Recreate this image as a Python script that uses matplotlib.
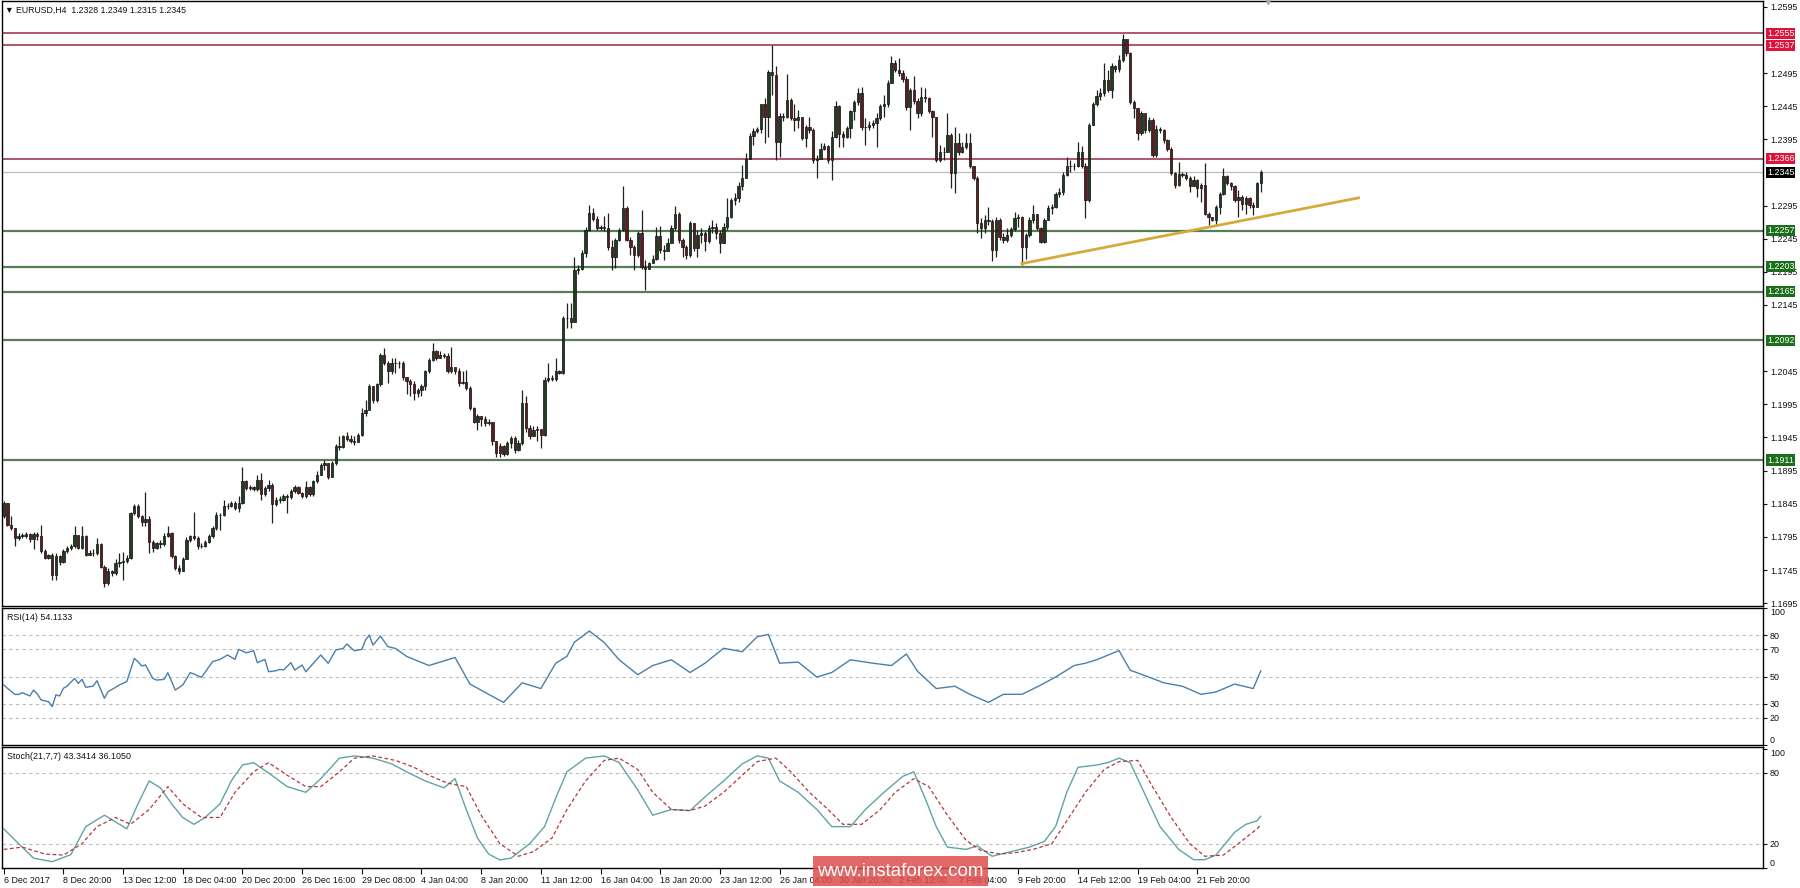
import numpy as np
import matplotlib
matplotlib.use("Agg")
import matplotlib.pyplot as plt
import matplotlib.transforms as mtransforms
from matplotlib.patches import Rectangle

plt.rcParams['font.family'] = ['Liberation Sans', 'DejaVu Sans']

# ---------------- data ----------------
header_text = "\u25BC EURUSD,H4  1.2328 1.2349 1.2315 1.2345"
rsi_title = "RSI(14) 54.1133"
stoch_title = "Stoch(21,7,7) 43.3414 36.1050"

open_first = 1.1826
close = [
 1.1846, 1.1813, 1.1808, 1.1793, 1.1797, 1.1797, 1.1800, 1.1792, 1.1800, 1.1797,
 1.1773, 1.1763, 1.1767, 1.1738, 1.1766, 1.1757, 1.1773, 1.1778, 1.1781, 1.1798,
 1.1778, 1.1796, 1.1768, 1.1771, 1.1770, 1.1785, 1.1750, 1.1725, 1.1743, 1.1740,
 1.1756, 1.1757, 1.1758, 1.1763, 1.1831, 1.1842, 1.1826, 1.1818, 1.1822, 1.1788,
 1.1778, 1.1786, 1.1785, 1.1797, 1.1801, 1.1766, 1.1748, 1.1743, 1.1762, 1.1791,
 1.1796, 1.1793, 1.1781, 1.1782, 1.1788, 1.1796, 1.1808, 1.1828, 1.1828, 1.1841,
 1.1842, 1.1846, 1.1839, 1.1846, 1.1879, 1.1869, 1.1870, 1.1867, 1.1881, 1.1859,
 1.1869, 1.1874, 1.1844, 1.1851, 1.1851, 1.1856, 1.1855, 1.1864, 1.1870, 1.1861,
 1.1856, 1.1871, 1.1859, 1.1879, 1.1889,
 1.1904, 1.1907, 1.1886, 1.1906, 1.1932, 1.1931, 1.1947, 1.1942, 1.1939, 1.1938,
 1.1949, 1.1982, 1.1987, 1.2022, 1.2002, 1.2025, 1.2070, 1.2057, 1.2045, 1.2057,
 1.2058, 1.2057, 1.2037, 1.2030, 1.2025, 1.2012, 1.2017, 1.2022, 1.2045, 1.2062,
 1.2075, 1.2065, 1.2070, 1.2068, 1.2045, 1.2051, 1.2045, 1.2027, 1.2028, 1.2020,
 1.1989, 1.1969, 1.1977, 1.1973, 1.1967, 1.1968, 1.1939, 1.1921, 1.1932, 1.1920,
 1.1936, 1.1944, 1.1926, 1.1937, 1.1997, 1.1959, 1.1947, 1.1957, 1.1958, 1.1949,
 1.2032, 1.2035, 1.2033, 1.2046, 1.2043, 1.2125, 1.2125, 1.2120, 1.2198, 1.2199,
 1.2223, 1.2258, 1.2284, 1.2274, 1.2261, 1.2262, 1.2261, 1.2233, 1.2218, 1.2243,
 1.2258, 1.2291, 1.2243, 1.2233, 1.2221, 1.2253,
 1.2203, 1.2200, 1.2208, 1.2215, 1.2249, 1.2228, 1.2226, 1.2238, 1.2261, 1.2283,
 1.2243, 1.2233, 1.2220, 1.2269, 1.2231, 1.2251, 1.2253, 1.2241, 1.2261, 1.2263,
 1.2253, 1.2238, 1.2263, 1.2278, 1.2303, 1.2306, 1.2324, 1.2336, 1.2366, 1.2400,
 1.2407, 1.2410, 1.2448, 1.2429, 1.2497, 1.2492, 1.2391, 1.2430, 1.2428, 1.2454,
 1.2427, 1.2424, 1.2428, 1.2397, 1.2414, 1.2409, 1.2364, 1.2366, 1.2381, 1.2385,
 1.2364, 1.2399, 1.2445, 1.2403, 1.2399, 1.2412, 1.2437, 1.2452, 1.2465, 1.2414,
 1.2413, 1.2416, 1.2420, 1.2427, 1.2445, 1.2448, 1.2480, 1.2510, 1.2499, 1.2495,
 1.2486, 1.2443, 1.2469, 1.2453, 1.2434, 1.2459, 1.2457, 1.2437, 1.2428, 1.2364,
 1.2376, 1.2376, 1.2402, 1.2344, 1.2389, 1.2376,
 1.2384, 1.2389, 1.2354, 1.2336, 1.2268, 1.2261, 1.2273, 1.2271, 1.2228, 1.2273,
 1.2248, 1.2243, 1.2251, 1.2259, 1.2276, 1.2278, 1.2233, 1.2251, 1.2273, 1.2283,
 1.2261, 1.2240, 1.2273, 1.2291, 1.2293, 1.2313, 1.2316, 1.2341, 1.2354, 1.2354,
 1.2354, 1.2376, 1.2354, 1.2303, 1.2417, 1.2449, 1.2460, 1.2465, 1.2484, 1.2469,
 1.2505, 1.2501, 1.2515, 1.2547, 1.2525, 1.2452, 1.2442, 1.2404, 1.2434, 1.2409,
 1.2424, 1.2371, 1.2411, 1.2409, 1.2394, 1.2381, 1.2344, 1.2326, 1.2343, 1.2341,
 1.2336, 1.2324, 1.2334, 1.2321, 1.2326, 1.2283, 1.2278, 1.2273, 1.2293, 1.2313,
 1.2339, 1.2329, 1.2324, 1.2303, 1.2308, 1.2298, 1.2306, 1.2296, 1.2293, 1.2329,
 1.2345,
]
high = [
 1.1849, 1.1846, 1.1826, 1.1808, 1.1801, 1.1801, 1.1803, 1.1801, 1.1802, 1.1802,
 1.1813, 1.1776, 1.1769, 1.1771, 1.1770, 1.1768, 1.1776, 1.1781, 1.1785, 1.1811,
 1.1798, 1.1812, 1.1798, 1.1775, 1.1776, 1.1793, 1.1786, 1.1753, 1.1748, 1.1745,
 1.1761, 1.1771, 1.1772, 1.1768, 1.1833, 1.1845, 1.1844, 1.1828, 1.1862, 1.1826,
 1.1791, 1.1788, 1.1791, 1.1801, 1.1812, 1.1802, 1.1768, 1.1753, 1.1765, 1.1795,
 1.1798, 1.1833, 1.1796, 1.1786, 1.1791, 1.1800, 1.1812, 1.1833, 1.1831, 1.1851,
 1.1846, 1.1849, 1.1849, 1.1856, 1.1901, 1.1881, 1.1874, 1.1872, 1.1889, 1.1891,
 1.1872, 1.1881, 1.1876, 1.1855, 1.1856, 1.1859, 1.1859, 1.1867, 1.1874, 1.1872,
 1.1862, 1.1879, 1.1872, 1.1881, 1.1894,
 1.1907, 1.1911, 1.1904, 1.1909, 1.1935, 1.1947, 1.1949, 1.1954, 1.1949, 1.1947,
 1.1952, 1.1989, 1.2002, 1.2025, 1.2022, 1.2027, 1.2072, 1.2080, 1.2060, 1.2065,
 1.2065, 1.2061, 1.2060, 1.2037, 1.2033, 1.2030, 1.2020, 1.2025, 1.2047, 1.2065,
 1.2088, 1.2077, 1.2075, 1.2073, 1.2073, 1.2082, 1.2052, 1.2050, 1.2045, 1.2047,
 1.2022, 1.1991, 1.1981, 1.1977, 1.1977, 1.1973, 1.1967, 1.1940, 1.1936, 1.1933,
 1.1939, 1.1948, 1.1947, 1.1941, 1.2017, 1.2007, 1.1964, 1.1962, 1.1963, 1.1954,
 1.2036, 1.2057, 1.2040, 1.2065, 1.2047, 1.2128, 1.2148, 1.2148, 1.2218, 1.2206,
 1.2228, 1.2263, 1.2296, 1.2291, 1.2279, 1.2266, 1.2280, 1.2284, 1.2243, 1.2246,
 1.2261, 1.2324, 1.2294, 1.2248, 1.2236, 1.2256,
 1.2288, 1.2213, 1.2210, 1.2220, 1.2263, 1.2264, 1.2236, 1.2246, 1.2266, 1.2294,
 1.2286, 1.2246, 1.2236, 1.2272, 1.2269, 1.2258, 1.2261, 1.2256, 1.2266, 1.2273,
 1.2268, 1.2258, 1.2268, 1.2306, 1.2306, 1.2314, 1.2331, 1.2356, 1.2374, 1.2404,
 1.2412, 1.2414, 1.2449, 1.2457, 1.2500, 1.2537, 1.2505, 1.2434, 1.2434, 1.2494,
 1.2457, 1.2448, 1.2439, 1.2428, 1.2417, 1.2428, 1.2412, 1.2371, 1.2389, 1.2389,
 1.2386, 1.2407, 1.2453, 1.2447, 1.2407, 1.2415, 1.2439, 1.2455, 1.2472, 1.2474,
 1.2427, 1.2422, 1.2424, 1.2434, 1.2449, 1.2462, 1.2485, 1.2521, 1.2515, 1.2517,
 1.2500, 1.2490, 1.2472, 1.2490, 1.2457, 1.2474, 1.2473, 1.2459, 1.2439, 1.2428,
 1.2386, 1.2384, 1.2434, 1.2404, 1.2414, 1.2404,
 1.2391, 1.2404, 1.2405, 1.2354, 1.2339, 1.2276, 1.2281, 1.2293, 1.2274, 1.2278,
 1.2276, 1.2253, 1.2261, 1.2263, 1.2286, 1.2283, 1.2280, 1.2253, 1.2278, 1.2296,
 1.2283, 1.2263, 1.2276, 1.2296, 1.2298, 1.2316, 1.2321, 1.2346, 1.2369, 1.2364,
 1.2359, 1.2391, 1.2385, 1.2359, 1.2419, 1.2452, 1.2469, 1.2472, 1.2510, 1.2500,
 1.2510, 1.2507, 1.2522, 1.2554, 1.2547, 1.2527, 1.2454, 1.2442, 1.2437, 1.2432,
 1.2429, 1.2427, 1.2417, 1.2414, 1.2410, 1.2396, 1.2384, 1.2346, 1.2361, 1.2346,
 1.2345, 1.2340, 1.2339, 1.2335, 1.2329, 1.2359, 1.2286, 1.2278, 1.2296, 1.2316,
 1.2351, 1.2341, 1.2331, 1.2326, 1.2318, 1.2311, 1.2310, 1.2308, 1.2301, 1.2331,
 1.2349,
]
low = [
 1.1823, 1.1811, 1.1806, 1.1781, 1.1791, 1.1793, 1.1793, 1.1788, 1.1776, 1.1791,
 1.1771, 1.1761, 1.1762, 1.1730, 1.1730, 1.1753, 1.1755, 1.1771, 1.1775, 1.1778,
 1.1776, 1.1776, 1.1766, 1.1767, 1.1766, 1.1767, 1.1748, 1.1720, 1.1723, 1.1736,
 1.1738, 1.1750, 1.1730, 1.1755, 1.1761, 1.1828, 1.1823, 1.1811, 1.1811, 1.1771,
 1.1772, 1.1776, 1.1778, 1.1781, 1.1795, 1.1763, 1.1745, 1.1739, 1.1753, 1.1761,
 1.1788, 1.1791, 1.1776, 1.1778, 1.1780, 1.1786, 1.1793, 1.1806, 1.1806, 1.1826,
 1.1837, 1.1840, 1.1835, 1.1833, 1.1845, 1.1866, 1.1866, 1.1864, 1.1864, 1.1851,
 1.1856, 1.1865, 1.1816, 1.1842, 1.1846, 1.1849, 1.1831, 1.1852, 1.1861, 1.1859,
 1.1854, 1.1854, 1.1856, 1.1856, 1.1876,
 1.1889, 1.1896, 1.1882, 1.1885, 1.1904, 1.1926, 1.1929, 1.1939, 1.1937, 1.1934,
 1.1939, 1.1947, 1.1977, 1.1986, 1.1997, 1.1999, 1.2022, 1.2055, 1.2027, 1.2041,
 1.2042, 1.2050, 1.2032, 1.2010, 1.2007, 1.2002, 1.2006, 1.2008, 1.2016, 1.2042,
 1.2061, 1.2062, 1.2065, 1.2065, 1.2042, 1.2042, 1.2041, 1.2022, 1.2025, 1.2017,
 1.1986, 1.1967, 1.1957, 1.1962, 1.1962, 1.1964, 1.1934, 1.1916, 1.1916, 1.1917,
 1.1919, 1.1929, 1.1922, 1.1924, 1.1934, 1.1954, 1.1942, 1.1947, 1.1939, 1.1929,
 1.1947, 1.2028, 1.2030, 1.2031, 1.2041, 1.2041, 1.2110, 1.2110, 1.2133, 1.2191,
 1.2198, 1.2217, 1.2256, 1.2271, 1.2258, 1.2258, 1.2257, 1.2228, 1.2198, 1.2201,
 1.2241, 1.2256, 1.2241, 1.2221, 1.2198, 1.2218,
 1.2200, 1.2168, 1.2199, 1.2208, 1.2213, 1.2224, 1.2213, 1.2228, 1.2238, 1.2258,
 1.2238, 1.2218, 1.2215, 1.2218, 1.2227, 1.2218, 1.2238, 1.2226, 1.2238, 1.2253,
 1.2245, 1.2223, 1.2238, 1.2258, 1.2276, 1.2296, 1.2301, 1.2319, 1.2336, 1.2366,
 1.2386, 1.2404, 1.2404, 1.2389, 1.2399, 1.2462, 1.2364, 1.2369, 1.2422, 1.2427,
 1.2424, 1.2407, 1.2412, 1.2394, 1.2384, 1.2404, 1.2359, 1.2336, 1.2366, 1.2379,
 1.2359, 1.2334, 1.2397, 1.2384, 1.2384, 1.2397, 1.2397, 1.2424, 1.2447, 1.2409,
 1.2386, 1.2409, 1.2412, 1.2384, 1.2424, 1.2429, 1.2444, 1.2480, 1.2496, 1.2490,
 1.2482, 1.2439, 1.2409, 1.2449, 1.2427, 1.2430, 1.2452, 1.2434, 1.2399, 1.2361,
 1.2361, 1.2364, 1.2376, 1.2321, 1.2314, 1.2371,
 1.2374, 1.2381, 1.2351, 1.2333, 1.2253, 1.2246, 1.2253, 1.2266, 1.2212, 1.2218,
 1.2243, 1.2238, 1.2240, 1.2248, 1.2256, 1.2263, 1.2205, 1.2215, 1.2248, 1.2268,
 1.2258, 1.2238, 1.2239, 1.2273, 1.2283, 1.2291, 1.2308, 1.2311, 1.2339, 1.2346,
 1.2349, 1.2353, 1.2351, 1.2276, 1.2301, 1.2417, 1.2445, 1.2454, 1.2460, 1.2467,
 1.2457, 1.2497, 1.2497, 1.2512, 1.2520, 1.2449, 1.2427, 1.2394, 1.2401, 1.2404,
 1.2406, 1.2369, 1.2368, 1.2404, 1.2390, 1.2378, 1.2341, 1.2321, 1.2324, 1.2338,
 1.2333, 1.2316, 1.2324, 1.2308, 1.2301, 1.2281, 1.2266, 1.2271, 1.2264, 1.2283,
 1.2311, 1.2326, 1.2319, 1.2301, 1.2278, 1.2288, 1.2283, 1.2291, 1.2281, 1.2293,
 1.2315,
]

date_labels = ['6 Dec 2017', '8 Dec 20:00', '13 Dec 12:00', '18 Dec 04:00', '20 Dec 20:00',
               '26 Dec 16:00', '29 Dec 08:00', '4 Jan 04:00', '8 Jan 20:00', '11 Jan 12:00',
               '16 Jan 04:00', '18 Jan 20:00', '23 Jan 12:00', '26 Jan 04:00', '30 Jan 20:00',
               '2 Feb 12:00', '7 Feb 04:00', '9 Feb 20:00', '14 Feb 12:00', '19 Feb 04:00',
               '21 Feb 20:00']
bars_per_label = 16

# scale labels shown by the terminal (those hidden behind level boxes are left out)
price_ticks = [1.1695, 1.1745, 1.1795, 1.1845, 1.1895, 1.1945, 1.1995, 1.2045,
               1.2145, 1.2195, 1.2245, 1.2295, 1.2395, 1.2445, 1.2495, 1.2595]
resistance_levels = [1.2555, 1.2537, 1.2366]
support_levels = [1.2257, 1.2203, 1.2165, 1.2092, 1.1911]
last_price = 1.2345
trend_bar = [272.6, 363.6]
trend_price = [1.2207, 1.2307]

rsi_levels = [80, 70, 50, 30, 20]
rsi_ticks = [0, 20, 30, 50, 70, 80, 100]
rsi_bar = [0, 1, 3, 4, 5, 7, 8, 9, 10, 12, 13, 14, 15, 16, 17, 19, 20, 21, 22, 24,
           25, 27, 28, 30, 31, 33, 35, 36, 37, 38, 40, 41, 43, 44, 46, 48, 50, 51, 53, 56,
           58, 60, 62, 63, 65, 67, 68, 70, 71, 73, 74, 75, 77, 78, 80, 81, 83, 85, 87, 89,
           91, 92, 94, 96, 97, 98, 99, 101, 103, 105, 108, 114, 121, 125, 130, 134, 139, 144, 148, 151,
           153, 157, 161, 165, 170, 174, 179, 184, 188, 193, 198, 202, 205, 208, 213, 218, 222, 227, 233, 238,
           242, 245, 250, 255, 259, 264, 268, 273, 278, 282, 287, 290, 293, 299, 302, 307, 311, 316, 321, 325,
           330, 335, 337]
rsi_val = [43.9, 41.4, 36.9, 36.9, 38.2, 35.8, 40.1, 37.3, 32.9, 31.6, 28.0, 36.6, 35.8, 41.4, 43.0, 48.6, 45.0, 47.9, 42.1, 43.0,
           46.9, 34.1, 39.0, 42.1, 43.8, 46.3, 63.2, 60.8, 57.7, 58.4, 48.6, 47.4, 47.9, 52.8, 40.1, 43.8, 52.8, 51.8, 49.4, 60.8,
           62.5, 65.7, 62.5, 69.8, 67.3, 68.8, 60.1, 62.5, 53.5, 54.2, 55.2, 54.7, 60.1, 54.7, 58.4, 53.5, 59.6, 65.7, 59.6, 69.3,
           70.5, 73.7, 68.8, 69.8, 76.6, 80.2, 72.9, 79.5, 71.8, 70.5, 64.7, 58.0, 63.9, 44.5, 37.0, 31.1, 45.4, 41.2, 59.7, 64.7,
           75.0, 83.2, 74.8, 62.2, 51.3, 58.0, 62.2, 52.9, 59.7, 70.6, 68.1, 79.0, 80.7, 59.7, 60.5, 49.6, 52.9, 62.2, 59.7, 58.0,
           66.4, 53.8, 41.2, 42.9, 37.0, 31.1, 37.0, 37.0, 43.7, 49.6, 58.0, 59.7, 62.2, 68.9, 54.6, 49.6, 45.4, 42.9, 37.0, 38.7,
           44.5, 41.2, 54.1]

stoch_levels = [80, 20]
stoch_ticks = [0, 20, 80, 100]
stoch_bar = [0, 4, 8, 13, 18, 22, 27, 30, 33, 36, 39, 42, 45, 48, 51, 54, 58, 61, 64, 67,
             71, 76, 81, 85, 90, 94, 99, 104, 108, 113, 118, 121, 124, 127, 130, 133, 136, 141, 145, 148,
             151, 156, 161, 165, 170, 174, 179, 184, 188, 193, 198, 202, 205, 208, 213, 218, 222, 227, 231, 236,
             241, 244, 247, 250, 253, 258, 261, 265, 270, 275, 279, 282, 285, 288, 293, 296, 299, 302, 305, 310,
             315, 319, 322, 325, 330, 333, 336, 337]
stoch_main = [32.7, 20.2, 8.0, 5.0, 11.0, 34.6, 44.2, 38.5, 32.7, 53.8, 73.1, 67.3, 53.8, 42.3, 36.5, 42.3, 53.8, 73.1, 86.5, 88.5,
              79.8, 68.3, 63.5, 75.0, 92.3, 94.2, 92.3, 87.5, 80.8, 73.1, 67.3, 75.0, 49.0, 25.0, 11.5, 6.5, 8.0, 20.2, 34.6, 58.7,
              80.8, 92.3, 94.2, 88.5, 65.4, 44.2, 49.0, 48.1, 59.6, 73.1, 87.5, 94.2, 92.3, 73.1, 63.5, 49.0, 34.6, 34.6, 49.0, 63.5,
              76.9, 80.8, 58.7, 34.6, 17.3, 15.4, 18.3, 9.6, 13.5, 17.3, 22.1, 34.6, 63.5, 84.6, 86.5, 88.5, 92.3, 88.5, 68.3, 34.6,
              15.4, 6.7, 6.7, 10.6, 29.8, 36.5, 39.4, 43.3]
signal_bar = [0, 5, 11, 16, 21, 25, 30, 34, 39, 44, 48, 53, 58, 62, 67, 71, 76, 81, 85, 90,
              94, 99, 105, 110, 114, 119, 124, 128, 133, 138, 142, 147, 151, 156, 161, 165, 170, 174, 179, 184,
              188, 193, 198, 202, 207, 211, 216, 221, 225, 230, 235, 239, 244, 248, 253, 258, 262, 267, 271, 276,
              281, 285, 290, 295, 299, 304, 308, 313, 318, 322, 327, 331, 336, 337]
stoch_signal = [15.4, 17.3, 11.5, 10.6, 20.2, 34.6, 42.3, 36.5, 49.0, 68.3, 53.8, 42.3, 42.3, 63.5, 80.8, 88.5, 77.9, 68.3, 68.3, 80.8,
                92.3, 94.2, 90.4, 84.6, 77.9, 71.2, 68.3, 44.2, 20.2, 9.6, 13.5, 25.0, 49.0, 73.1, 90.4, 92.3, 82.7, 63.5, 49.0, 48.1,
                51.9, 63.5, 77.9, 89.4, 92.3, 80.8, 63.5, 49.0, 36.5, 36.5, 49.0, 63.5, 75.0, 68.3, 44.2, 23.1, 14.4, 11.5, 12.5, 15.4,
                20.2, 39.4, 63.5, 82.7, 89.4, 90.4, 68.3, 42.3, 20.2, 9.6, 10.6, 20.2, 32.7, 36.1]

# ---------------- layout ----------------
W, H = 1800, 888
fig = plt.figure(figsize=(W / 100, H / 100), dpi=100)
fig.patch.set_facecolor('white')


def rect(l, t, r, b):
    return [l / W, 1 - b / H, (r - l) / W, (b - t) / H]


ax = fig.add_axes(rect(2, 1, 1763, 606))
ax_rsi = fig.add_axes(rect(2, 608, 1763, 745), sharex=ax)
ax_st = fig.add_axes(rect(2, 747, 1763, 868), sharex=ax)

FS = 6.4
for a in (ax, ax_rsi, ax_st):
    for s in a.spines.values():
        s.set_linewidth(1.0)
        s.set_color('black')
    a.yaxis.tick_right()
    a.tick_params(axis='y', direction='out', length=3, width=0.8, pad=2,
                  labelsize=FS, colors='#111111')
    a.tick_params(axis='x', bottom=False, labelbottom=False)
    a.set_facecolor('white')

# ---------------- candles ----------------
c = np.array(close)
n = len(c)
hi = np.array(high[:n])
lo = np.array(low[:n])
o = np.concatenate([[open_first], c[:-1]])
hi = np.maximum(hi, np.maximum(o, c))
lo = np.minimum(lo, np.minimum(o, c))
x = np.arange(n)
up = c >= o
ax.vlines(x, lo, hi, color='#202020', lw=0.9, zorder=3)
body_bottom = np.minimum(o, c)
body_h = np.maximum(np.abs(c - o), 0.00005)
ax.bar(x[up], body_h[up], bottom=body_bottom[up], width=0.62,
       color='#1f3d1f', edgecolor='#101010', lw=0.5, zorder=4)
ax.bar(x[~up], body_h[~up], bottom=body_bottom[~up], width=0.62,
       color='#5e1c1c', edgecolor='#101010', lw=0.5, zorder=4)

x_left, x_right = -0.46, -0.46 + 1761 / 3.73
ax.set_xlim(x_left, x_right)
ax.set_ylim(1.16907, 1.26037)
ax.set_yticks(price_ticks)
ax.set_yticklabels([f'{p:.4f}' for p in price_ticks])

# levels
for lv in resistance_levels:
    ax.axhline(lv, color='#a33a50', lw=1.2, zorder=2)
for lv in support_levels:
    ax.axhline(lv, color='#557f55', lw=1.6, zorder=2)
ax.axhline(last_price, color='#bdbdbd', lw=0.9, zorder=1)
ax.plot(trend_bar, trend_price, color='#d4aa3a', lw=2.0, zorder=5, solid_capstyle='butt')

# right-hand price boxes
tr = mtransforms.blended_transform_factory(ax.transAxes, ax.transData)
box_items = ([(lv, '#dc143c') for lv in resistance_levels] +
             [(last_price, '#000000')] +
             [(lv, '#1c6e1c') for lv in support_levels])
for lv, col in box_items:
    ax.text(1.0022, lv, f'{lv:.4f}', transform=tr, ha='left', va='center',
            fontsize=FS, color='white', clip_on=False, zorder=20,
            bbox=dict(boxstyle='square,pad=0.12', fc=col, ec='none'))

# header and shift marker
ax.text(0.0018, 0.985, header_text, transform=ax.transAxes, ha='left', va='center',
        fontsize=6.3, color='#111111')
ax.plot([n + 1], [1.0], transform=mtransforms.blended_transform_factory(ax.transData, ax.transAxes),
        marker='v', ms=5, color='#a8a8a8', clip_on=False, zorder=6)

# ---------------- RSI ----------------
for lv in rsi_levels:
    ax_rsi.axhline(lv, color='#bcbcbc', lw=0.8, ls=(0, (3, 3)), zorder=1)
ax_rsi.plot(rsi_bar, rsi_val, color='#4a7fab', lw=1.0, zorder=3)
ax_rsi.set_ylim(0, 100)
ax_rsi.set_yticks(rsi_ticks)
ax_rsi.set_yticklabels([str(t) for t in rsi_ticks])
labs = ax_rsi.get_yticklabels()
labs[0].set_va('bottom')
labs[-1].set_va('top')
ax_rsi.text(0.0028, 0.93, rsi_title, transform=ax_rsi.transAxes, ha='left', va='center',
            fontsize=6.4, color='#111111')

# ---------------- Stochastic ----------------
for lv in stoch_levels:
    ax_st.axhline(lv, color='#bcbcbc', lw=0.8, ls=(0, (3, 3)), zorder=1)
ax_st.plot(stoch_bar, stoch_main, color='#5fa3a8', lw=1.0, zorder=3)
ax_st.plot(signal_bar, stoch_signal, color='#b03a3a', lw=0.9, ls=(0, (3, 2)), zorder=3)
ax_st.set_ylim(-0.3, 101.7)
ax_st.set_yticks(stoch_ticks)
ax_st.set_yticklabels([str(t) for t in stoch_ticks])
labs = ax_st.get_yticklabels()
labs[0].set_va('bottom')
labs[-1].set_va('top')
ax_st.text(0.0028, 0.925, stoch_title, transform=ax_st.transAxes, ha='left', va='center',
           fontsize=6.4, color='#111111')

# x axis labels
xt = [i * bars_per_label for i in range(len(date_labels))]
ax_st.tick_params(axis='x', bottom=True, labelbottom=True, direction='out', length=4,
                  width=0.8, pad=2, labelsize=FS, colors='#111111')
ax_st.set_xticks(xt)
ax_st.set_xticklabels(date_labels)
for t in ax_st.get_xticklabels():
    t.set_ha('left')
ax_st.set_xlim(x_left, x_right)

# ---------------- watermark ----------------
wm = Rectangle((813 / W, 1 - 886 / H), 175 / W, 30 / H, transform=fig.transFigure,
               facecolor='#df4d4d', alpha=0.85, edgecolor='none', zorder=50)
fig.patches.append(wm)
fig.text(900.5 / W, 1 - 871 / H, 'www.instaforex.com', color='white', fontsize=13.5,
         ha='center', va='center', zorder=51)

fig.savefig('out.png', dpi=100, facecolor='white')
